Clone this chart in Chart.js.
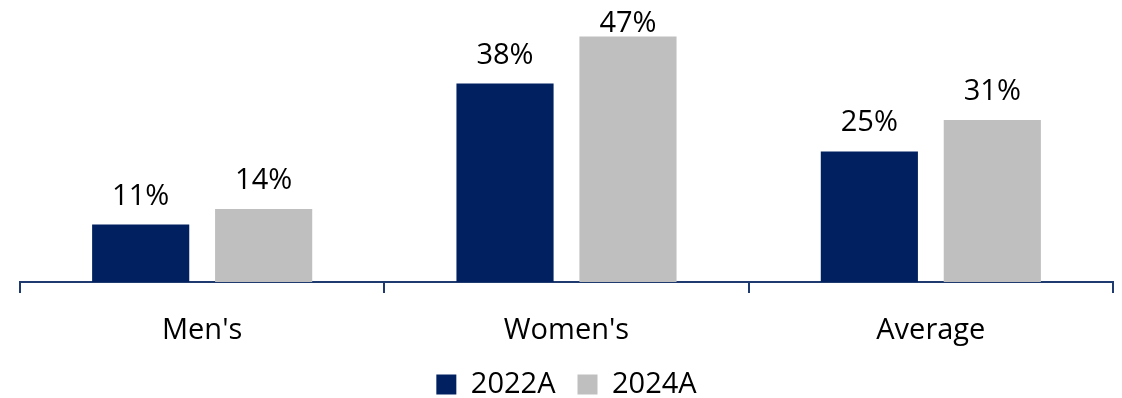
<!DOCTYPE html>
<html>
<head>
<meta charset="utf-8">
<script src="https://cdn.jsdelivr.net/npm/chart.js@4"></script>
<style>
  html, body { margin: 0; padding: 0; background: #fff; }
  #wrap { width: 1122px; height: 398px; }
</style>
</head>
<body>
<div id="wrap"><canvas id="myChart" width="1122" height="398"></canvas></div>
<script>
const categories = ["Men's", "Women's", "Average"];
const seriesNames = ['2022A', '2024A'];
const values2022 = [11, 38, 25];
const values2024 = [14, 47, 31];

const navy = '#002060';
const grey = '#BFBFBF';
const axisColor = '#1F3A6E';
const fontFamily = "'Open Sans', 'Noto Sans', sans-serif";

// simple value labels above each bar
const barLabels = {
    id: 'barLabels',
    afterDatasetsDraw(chart) {
        const ctx = chart.ctx;
        ctx.save();
        ctx.font = '29px ' + fontFamily;
        ctx.fillStyle = '#000';
        ctx.textAlign = 'center';
        ctx.textBaseline = 'alphabetic';
        chart.data.datasets.forEach((ds, i) => {
            chart.getDatasetMeta(i).data.forEach((bar, j) => {
                const y = Math.max(bar.y - 20, 32);
                ctx.fillText(ds.data[j] + '%', bar.x, y);
            });
        });
        ctx.restore();
    }
};

const ctx = document.getElementById('myChart').getContext('2d');
new Chart(ctx, {
    type: 'bar',
    data: {
        labels: categories,
        datasets: [
            { label: seriesNames[0], data: values2022, backgroundColor: navy, categoryPercentage: 0.675, barPercentage: 0.79 },
            { label: seriesNames[1], data: values2024, backgroundColor: grey, categoryPercentage: 0.675, barPercentage: 0.79 }
        ]
    },
    options: {
        responsive: false,
        animation: false,
        layout: { padding: { left: 20, right: 9, top: 0, bottom: -11 } },
        plugins: {
            tooltip: { enabled: false },
            legend: {
                position: 'bottom',
                labels: {
                    boxWidth: 20,
                    boxHeight: 20,
                    padding: 22,
                    color: '#000',
                    font: { family: fontFamily, size: 29 }
                }
            }
        },
        scales: {
            x: {
                afterFit: (scale) => { scale.height = 66; },
                grid: {
                    display: true,
                    drawOnChartArea: false,
                    drawTicks: true,
                    tickLength: 11,
                    color: axisColor,
                    lineWidth: 2
                },
                border: { display: true, color: axisColor, width: 2 },
                ticks: {
                    color: '#000',
                    padding: 20,
                    font: { family: fontFamily, size: 29 }
                }
            },
            y: {
                display: false,
                min: 0,
                max: 54
            }
        }
    },
    plugins: [barLabels]
});
</script>
</body>
</html>
